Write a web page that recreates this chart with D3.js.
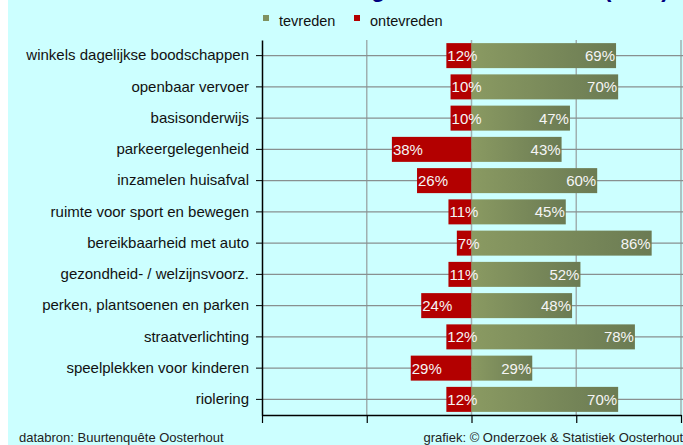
<!DOCTYPE html>
<html>
<head>
<meta charset="utf-8">
<script src="https://cdn.jsdelivr.net/npm/d3@7"></script>
<style>
    body { margin: 0; background: #ffffff; }
    svg { display: block; font-family: "Liberation Sans", Arial, sans-serif; }
</style>
</head>
<body>
<div class="my_div"></div>
<script>
// Categories, top to bottom
var categories = [
    "winkels dagelijkse boodschappen",
    "openbaar vervoer",
    "basisonderwijs",
    "parkeergelegenheid",
    "inzamelen huisafval",
    "ruimte voor sport en bewegen",
    "bereikbaarheid met auto",
    "gezondheid- / welzijnsvoorz.",
    "perken, plantsoenen en parken",
    "straatverlichting",
    "speelplekken voor kinderen",
    "riolering"
];

// Percentages per category
var tevreden = [69, 70, 47, 43, 60, 45, 86, 52, 48, 78, 29, 70];
var ontevreden = [12, 10, 10, 38, 26, 11, 7, 11, 24, 12, 29, 12];

var xTicks = [-100, -50, 0, 50, 100];
var legendLabels = ["tevreden", "ontevreden"];

var width = 683,
    height = 445;

var svg = d3.select(".my_div")
    .append("svg")
    .attr("width", width)
    .attr("height", height)

// cyan panel with white strip on the left
svg.append("rect")
    .attr("x", 8)
    .attr("y", 0)
    .attr("width", width - 8)
    .attr("height", height)
    .attr("fill", "#ccffff")

// gradient for the green bars
var grad = svg.append("defs").append("linearGradient")
    .attr("id", "green")
    .attr("x1", "0%").attr("x2", "100%")
    .attr("y1", "0%").attr("y2", "0%")
grad.append("stop").attr("offset", "0%").attr("stop-color", "#8a9a62")
grad.append("stop").attr("offset", "100%").attr("stop-color", "#6b7b53")

// Title, cut off at the top of the picture (only descenders show)
svg.append("text")
    .text("Tevredenheid met voorzieningen in de woonbuurt (2011)")
    .attr("x", 669)
    .attr("y", -3.5)
    .attr("text-anchor", "end")
    .attr("font-size", "23px")
    .attr("font-weight", "bold")
    .attr("fill", "#000080")

var xScale = d3.scaleLinear()
    .domain([-100, 100])
    .range([262, 681]);

var yScale = d3.scaleBand()
    .domain(categories)
    .range([40, 415])
    .paddingInner(0.2)
    .paddingOuter(0.1);

var yCenter = (c) => { return yScale(c) + yScale.bandwidth() / 2 }

// Grid lines
svg.append("g")
    .selectAll("line")
    .data(xTicks.slice(1))
    .enter()
    .append("line")
    .attr("x1", (d) => { return xScale(d) })
    .attr("x2", (d) => { return xScale(d) })
    .attr("y1", 40)
    .attr("y2", 415)
    .attr("stroke", "#9fb0b0")
    .attr("stroke-width", 1.5)

svg.append("g")
    .selectAll("line")
    .data(categories)
    .enter()
    .append("line")
    .attr("x1", 262)
    .attr("x2", 683)
    .attr("y1", yCenter)
    .attr("y2", yCenter)
    .attr("stroke", "#889090")
    .attr("stroke-width", 1.2)

// Bars
svg.append("g")
    .selectAll("rect")
    .data(ontevreden)
    .enter()
    .append("rect")
    .attr("x", (d) => { return xScale(-d) })
    .attr("y", (d, i) => { return yScale(categories[i]) })
    .attr("width", (d) => { return xScale(0) - xScale(-d) })
    .attr("height", yScale.bandwidth())
    .attr("fill", "#b30000")

svg.append("g")
    .selectAll("rect")
    .data(tevreden)
    .enter()
    .append("rect")
    .attr("x", xScale(0))
    .attr("y", (d, i) => { return yScale(categories[i]) })
    .attr("width", (d) => { return xScale(d) - xScale(0) })
    .attr("height", yScale.bandwidth())
    .attr("fill", "url(#green)")

// Value labels
svg.append("g")
    .selectAll("text")
    .data(ontevreden)
    .enter()
    .append("text")
    .text((d) => { return d + "%" })
    .attr("x", (d) => { return xScale(-d) + 1 })
    .attr("y", (d, i) => { return yCenter(categories[i]) })
    .attr("dy", "0.36em")
    .attr("font-size", "15px")
    .attr("fill", "#f5f5f5")

svg.append("g")
    .selectAll("text")
    .data(tevreden)
    .enter()
    .append("text")
    .text((d) => { return d + "%" })
    .attr("x", (d) => { return xScale(d) - 1 })
    .attr("y", (d, i) => { return yCenter(categories[i]) })
    .attr("dy", "0.36em")
    .attr("text-anchor", "end")
    .attr("font-size", "15px")
    .attr("fill", "#f5f5f5")

// Axes
var yAxis = svg.append("g")
    .attr("transform", "translate(262,0)")
    .call(d3.axisLeft(yScale).tickSize(6).tickPadding(7).tickSizeOuter(0))
yAxis.select(".domain").attr("stroke", "#000").attr("stroke-width", 1.5)
yAxis.selectAll("text")
    .attr("font-size", "15px")
    .attr("font-family", "Liberation Sans, Arial, sans-serif")
    .attr("fill", "#111")

var xAxis = svg.append("g")
    .attr("transform", "translate(0,415)")
    .call(d3.axisBottom(xScale).tickValues(xTicks).tickSize(8).tickSizeOuter(0).tickFormat(""))
xAxis.select(".domain").attr("stroke", "#000").attr("stroke-width", 1.5)
xAxis.selectAll("line").attr("stroke-width", 1.2)

// Legend
var legendColors = ["#7f9160", "#b30000"];
var legendX = [263, 354];
var legend = svg.append("g")
    .selectAll("g")
    .data(legendLabels)
    .enter()
    .append("g")
    .attr("transform", (d, i) => { return "translate(" + legendX[i] + ",0)" })

legend.append("rect")
    .attr("x", 0)
    .attr("y", 15)
    .attr("width", 6)
    .attr("height", 6)
    .attr("fill", (d, i) => { return legendColors[i] })

legend.append("text")
    .text((d) => { return d })
    .attr("x", 16)
    .attr("y", 26)
    .attr("font-size", "14.5px")
    .attr("fill", "#111")

// Footer
svg.append("text")
    .text("databron: Buurtenquête Oosterhout")
    .attr("x", 19)
    .attr("y", 442)
    .attr("font-size", "13px")
    .attr("fill", "#222")

svg.append("text")
    .text("grafiek: © Onderzoek & Statistiek Oosterhout")
    .attr("x", 683)
    .attr("y", 442)
    .attr("text-anchor", "end")
    .attr("font-size", "13px")
    .attr("fill", "#222")
</script>
</body>
</html>
